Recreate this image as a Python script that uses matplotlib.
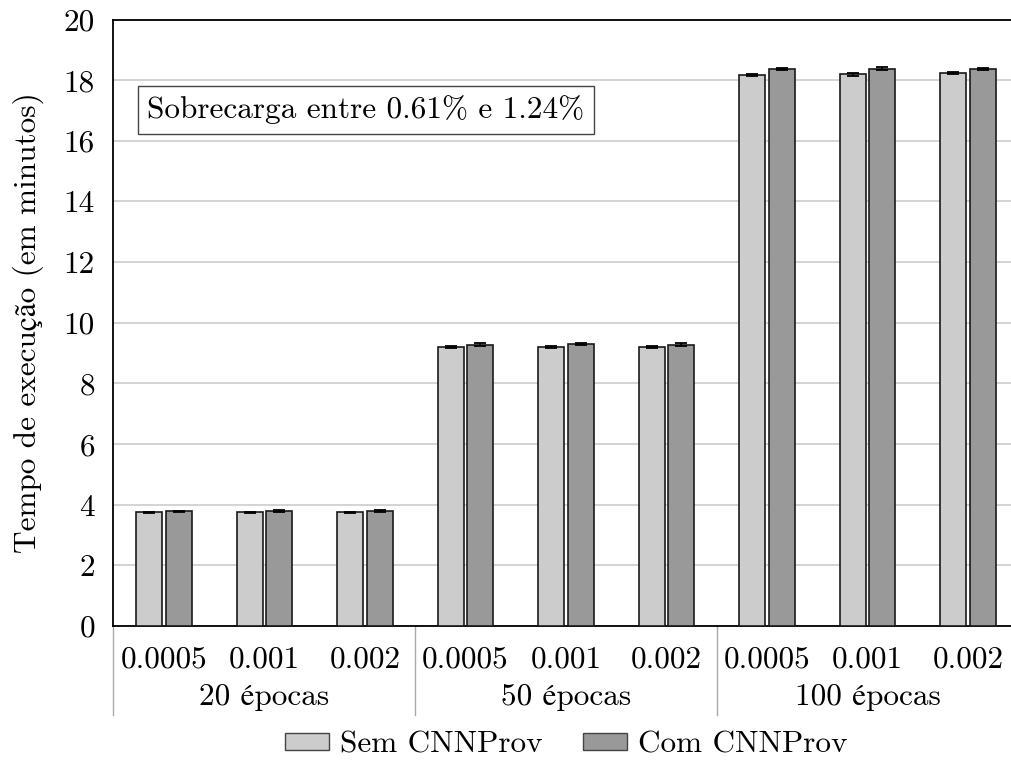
import matplotlib
matplotlib.use("Agg")
import matplotlib.pyplot as plt
from matplotlib.patches import Patch
from matplotlib.lines import Line2D
import numpy as np

plt.rcParams['font.family'] = ['cmr10', 'STIXGeneral', 'DejaVu Serif']
plt.rcParams['axes.formatter.use_mathtext'] = True
plt.rcParams['mathtext.fontset'] = 'cm'

groups = ["20 épocas", "50 épocas", "100 épocas"]
rates = ["0.0005", "0.001", "0.002"]
sem = [3.75, 3.75, 3.75, 9.20, 9.20, 9.20, 18.16, 18.19, 18.24]
com = [3.78, 3.78, 3.79, 9.28, 9.29, 9.28, 18.38, 18.37, 18.37]
sem_err = [0.02, 0.02, 0.02, 0.03, 0.03, 0.03, 0.03, 0.06, 0.03]
com_err = [0.02, 0.03, 0.03, 0.04, 0.04, 0.04, 0.03, 0.05, 0.04]
yticks = [0, 2, 4, 6, 8, 10, 12, 14, 16, 18, 20]
note = "Sobrecarga entre 0.61% e 1.24%"
ylabel = "Tempo de execução (em minutos)"
labels = ["Sem CNNProv", "Com CNNProv"]

FS = 22.5
W, H = 1011, 762
fig = plt.figure(figsize=(W / 100, H / 100), dpi=100)
left_px, right_px, top_px, bot_px = 113, 1016, 19.5, 626
ax = fig.add_axes([left_px / W, (H - bot_px) / H, (right_px - left_px) / W, (bot_px - top_px) / H])

c0, step = 164, 100.5
ax.set_xlim((left_px - c0) / step, (right_px - c0) / step)
ax.set_ylim(0, 20)

x = np.arange(len(sem))
off, bw = 0.149, 0.259
light, dark = "#cccccc", "#999999"
ax.bar(x - off, sem, bw, color=light, edgecolor="#1a1a1a", linewidth=1.2, zorder=3)
ax.bar(x + off, com, bw, color=dark, edgecolor="#1a1a1a", linewidth=1.2, zorder=3)
ax.errorbar(x - off, sem, yerr=sem_err, fmt="none", ecolor="black", elinewidth=1.2, capsize=4, capthick=1.3, zorder=4)
ax.errorbar(x + off, com, yerr=com_err, fmt="none", ecolor="black", elinewidth=1.2, capsize=4, capthick=1.3, zorder=4)

ax.set_yticks(yticks)
ax.set_yticklabels([str(v) for v in yticks], fontsize=FS)
ax.tick_params(axis="y", length=0, pad=13)
ax.set_xticks([])
ax.yaxis.grid(True, color="#cccccc", linewidth=1.2, zorder=0)
ax.set_axisbelow(True)
ax.spines["right"].set_visible(False)
for s in ["left", "top", "bottom"]:
    ax.spines[s].set_linewidth(1.3)
    ax.spines[s].set_color("black")

ax.set_ylabel(ylabel, fontsize=FS, labelpad=14)

trans = ax.get_xaxis_transform()
span = bot_px - top_px
lab_y = -(660 - bot_px) / span
grp_y = -(697 - bot_px) / span
sep_y = -(715 - bot_px) / span
for i in range(len(sem)):
    ax.text(x[i], lab_y, rates[i % 3], transform=trans, ha="center", va="center", fontsize=FS)
for g, name in enumerate(groups):
    ax.text(3 * g + 1, grp_y, name, transform=trans, ha="center", va="center", fontsize=FS)
for b in [(left_px - c0) / step, 2.5, 5.5, 8.5]:
    ax.add_line(Line2D([b, b], [0, sep_y], transform=trans, color="#aaaaaa", linewidth=1.0, clip_on=False))

ax.text((147 - left_px) / (right_px - left_px), (bot_px - 110) / span, note,
        transform=ax.transAxes, ha="left", va="center", fontsize=FS,
        bbox=dict(boxstyle="square,pad=0.3", facecolor="white", edgecolor="#444444", linewidth=1.0), zorder=5)

handles = [Patch(facecolor=light, edgecolor="#444444", linewidth=1.0),
           Patch(facecolor=dark, edgecolor="#444444", linewidth=1.0)]
fig.legend(handles, labels, loc="center", bbox_to_anchor=(566 / W, 1 - 745 / H), ncol=2,
           frameon=False, fontsize=FS, handlelength=1.4, handleheight=0.45,
           columnspacing=1.3, handletextpad=0.35, borderpad=0.0)

fig.savefig("out.png", dpi=100)
